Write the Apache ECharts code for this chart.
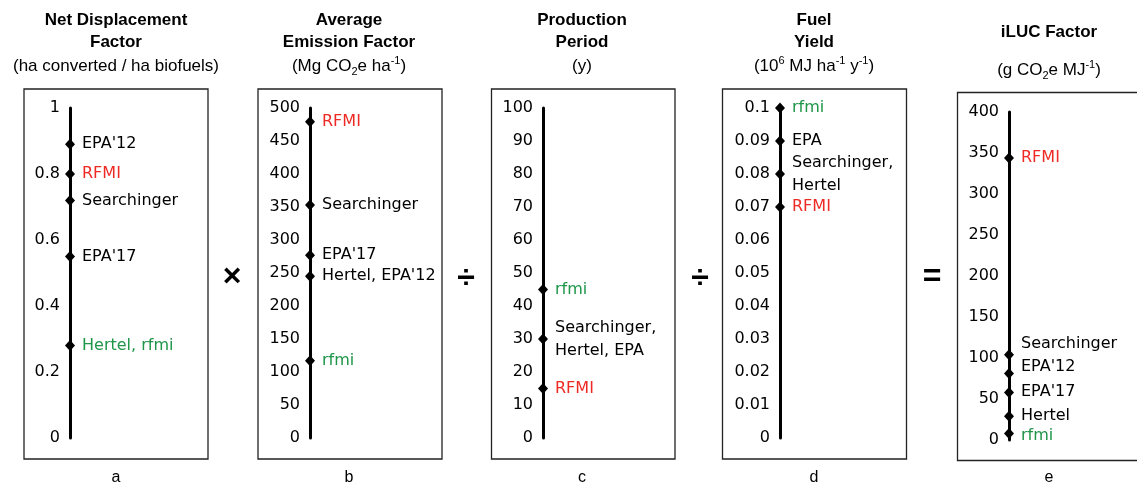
<!DOCTYPE html>
<html>
<head>
<meta charset="utf-8">
<script src="https://cdn.jsdelivr.net/npm/echarts@6/dist/echarts.min.js"></script>
<style>html,body{margin:0;padding:0;background:#fff}#c{width:1137px;height:486px}</style>
</head>
<body>
<div id="c"></div>
<script>
// ---- data ----
const ndfNames = ["EPA'12", "RFMI", "Searchinger", "EPA'17", "Hertel, rfmi"];
const ndfValues = [0.89, 0.80, 0.72, 0.55, 0.28];
const emfNames = ["RFMI", "Searchinger", "EPA'17", "Hertel, EPA'12", "rfmi"];
const emfValues = [479, 353, 277, 245, 117];
const prdNames = ["rfmi", "Searchinger,\nHertel, EPA", "RFMI"];
const prdValues = [45, 30, 15];
const fyNames = ["rfmi", "EPA", "Searchinger,\nHertel", "RFMI"];
const fyValues = [0.1, 0.09, 0.08, 0.07];
const ilucNames = ["RFMI", "Searchinger", "EPA'12", "EPA'17", "Hertel", "rfmi"];
const ilucValues = [344, 104, 81, 58, 29, 8];
const axisMax = [1, 500, 100, 0.1, 400];
const axisInterval = [0.2, 50, 10, 0.01, 50];
const panelLetters = ["a", "b", "c", "d", "e"];

// ---- layout / style ----
const axisX = [70, 310, 543, 780, 1009];
const axisTop = [108, 108, 108, 108, 112];
const axisH = [330, 330, 330, 330, 328];
const centers = [116, 349, 582, 814, 1049];
const boxes = [[24, 89, 184, 370], [258, 89, 184, 370], [491.5, 89, 183.5, 370], [722.5, 89, 184, 370], [957.5, 92.5, 190, 368]];
const ilucLabelShift = [0, -11, -7, -1, 0, 2];
const RED = '#ee2a24', GREEN = '#1e9548';
const LABEL_FONT = 'DejaVu Sans';

function labelColor(name) {
  if (name.indexOf('rfmi') >= 0) return GREEN;
  if (name.indexOf('RFMI') >= 0) return RED;
  return '#000';
}

const panels = [
  [ndfNames, ndfValues], [emfNames, emfValues], [prdNames, prdValues],
  [fyNames, fyValues], [ilucNames, ilucValues]
];

const grids = [], xAxes = [], yAxes = [], series = [];
panels.forEach((p, i) => {
  grids.push({ left: axisX[i], top: axisTop[i], width: 20, height: axisH[i], containLabel: false });
  xAxes.push({ gridIndex: i, type: 'value', min: 0, max: 1, show: false });
  yAxes.push({
    gridIndex: i, type: 'value', min: 0, max: axisMax[i], interval: axisInterval[i],
    position: 'left',
    axisLine: { show: true, onZero: false, lineStyle: { color: '#000', width: 3 } },
    axisTick: { show: false },
    splitLine: { show: false },
    axisLabel: { color: '#000', fontSize: 16, fontFamily: LABEL_FONT, margin: 10 }
  });
  series.push({
    type: 'scatter', xAxisIndex: i, yAxisIndex: i,
    symbol: 'diamond', symbolSize: [10, 11],
    itemStyle: { color: '#000', opacity: 1 },
    z: 5,
    data: p[1].map((v, k) => ({
      value: [0, v], name: p[0][k],
      label: {
        color: labelColor(p[0][k]),
        offset: i === 4 ? [0, ilucLabelShift[k]] : [0, 0]
      }
    })),
    label: {
      show: true, position: 'right', distance: 7, opacity: 1,
      fontSize: 16, fontFamily: LABEL_FONT, lineHeight: 23,
      formatter: (d) => d.name
    },
    emphasis: { disabled: true }
  });
});

const TF = 'Liberation Sans';
const richStyles = {
  n: { fontSize: 17, fontFamily: TF, lineHeight: 22, color: '#000' },
  sup: { fontSize: 11, fontFamily: TF, lineHeight: 11, verticalAlign: 'top', color: '#000' },
  sub: { fontSize: 11, fontFamily: TF, lineHeight: 11, verticalAlign: 'bottom', color: '#000' }
};
const titles = [
  ["Net Displacement", "Factor", "{n|(ha converted / ha biofuels)}"],
  ["Average", "Emission Factor", "{n|(Mg CO}{sub|2}{n|e ha}{sup|-1}{n|)}"],
  ["Production", "Period", "{n|(y)}"],
  ["Fuel", "Yield", "{n|(10}{sup|6}{n| MJ ha}{sup|-1}{n| y}{sup|-1}{n|)}"],
  ["iLUC Factor", null, "{n|(g CO}{sub|2}{n|e MJ}{sup|-1}{n|)}"]
];

const graphic = [];
boxes.forEach(b => {
  graphic.push({ type: 'rect', shape: { x: b[0], y: b[1], width: b[2], height: b[3] },
    style: { fill: 'none', stroke: '#222', lineWidth: 1.3 }, silent: true, z: 0 });
});
titles.forEach((t, i) => {
  const cx = centers[i];
  if (t[1] !== null) {
    graphic.push({ type: 'text', x: cx, y: 20, style: { text: t[0], textAlign: 'center', textVerticalAlign: 'middle', font: 'bold 17px ' + TF, fill: '#000' } });
    graphic.push({ type: 'text', x: cx, y: 42, style: { text: t[1], textAlign: 'center', textVerticalAlign: 'middle', font: 'bold 17px ' + TF, fill: '#000' } });
    graphic.push({ type: 'text', x: cx, y: 66, style: { text: t[2], rich: richStyles, textAlign: 'center', textVerticalAlign: 'middle', fill: '#000' } });
  } else {
    graphic.push({ type: 'text', x: cx, y: 32, style: { text: t[0], textAlign: 'center', textVerticalAlign: 'middle', font: 'bold 17px ' + TF, fill: '#000' } });
    graphic.push({ type: 'text', x: cx, y: 70, style: { text: t[2], rich: richStyles, textAlign: 'center', textVerticalAlign: 'middle', fill: '#000' } });
  }
  graphic.push({ type: 'text', x: cx, y: 478, style: { text: panelLetters[i], textAlign: 'center', textVerticalAlign: 'middle', font: '16px ' + TF, fill: '#000' } });
});
const ops = [['\u00d7', 232, 277], ['\u00f7', 466, 279], ['\u00f7', 700, 279], ['=', 932, 277]];
ops.forEach(o => {
  graphic.push({ type: 'text', x: o[1], y: o[2], style: { text: o[0], textAlign: 'center', textVerticalAlign: 'middle', font: 'bold 32px ' + TF, fill: '#000' } });
});

const chart = echarts.init(document.getElementById('c'));
chart.setOption({
  animation: false,
  grid: grids, xAxis: xAxes, yAxis: yAxes, series: series, graphic: graphic
});
</script>
</body>
</html>
